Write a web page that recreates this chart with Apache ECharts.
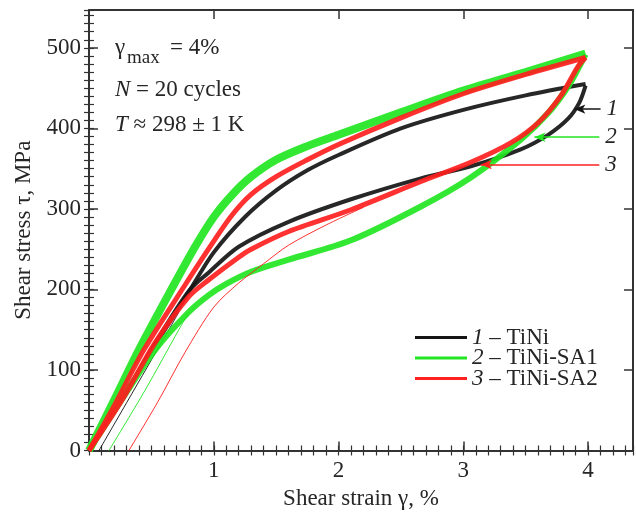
<!DOCTYPE html>
<html>
<head>
<meta charset="utf-8">
<script src="https://cdn.jsdelivr.net/npm/echarts@6/dist/echarts.min.js"></script>
<style>
  html, body { margin: 0; padding: 0; background: #fff; }
  #chart { width: 636px; height: 516px; }
</style>
</head>
<body>
<div id="chart"></div>
<script>
// strain (%) vs stress (MPa)
const tiniLoad = [[0,0],[0.2,50],[0.4,99],[0.6,148],[0.8,197],[1.0,246],[1.25,290],[1.5,323],[1.75,348],[2.0,367],[2.5,400],[3.0,423],[3.5,441],[3.98,455]];
const tiniUnload = [[3.98,453],[3.93,432],[3.84,412],[3.68,392],[3.46,374],[3.06,353],[2.66,338],[2.1,312],[1.6,284],[1.2,253],[0.96,221],[0.8,198],[0.53,133],[0.27,64],[0,0]];
const tiniFirst = [[0.08,0],[0.36,75],[0.64,150],[0.72,172]];

const sa1Load = [[0,0],[0.2,62],[0.4,125],[0.66,200],[0.85,253],[1.0,290],[1.15,318],[1.3,340],[1.5,361],[1.75,378],[2.0,392],[2.5,420],[3.0,447],[3.5,470],[3.98,493]];
const sa1Unload = [[3.98,492],[3.94,480],[3.84,452],[3.68,419],[3.46,386],[3.06,339],[2.66,303],[2.1,261],[1.6,237],[1.3,222],[1.1,207],[0.96,193],[0.8,172],[0.53,125],[0.27,65],[0,0]];
const sa1First = [[0.16,0],[0.45,75],[0.72,150],[0.8,172]];

const sa2Load = [[0,0],[0.2,55],[0.44,125],[0.78,208],[1.0,260],[1.15,293],[1.3,318],[1.5,340],[1.75,361],[2.0,380],[2.5,413],[3.0,443],[3.5,467],[3.98,488]];
const sa2Unload = [[3.98,488],[3.92,477],[3.78,440],[3.6,407],[3.38,382],[3.06,358],[2.66,334],[2.1,299],[1.6,272],[1.3,250],[1.2,240],[0.96,212],[0.8,191],[0.53,134],[0.27,64],[0,0]];
const sa2First = [[0.32,0],[0.55,60],[0.77,122],[1.0,178],[1.2,208],[1.4,232],[1.6,255],[1.9,280],[2.2,302]];

const sampleNames = ['TiNi', 'TiNi-SA1', 'TiNi-SA2'];
const sampleColors = ['#151515', '#22e622', '#ff2020'];

// arrow pointers to curve numbers: [tip, tail]
const arrow1 = [[3.89,424],[4.10,424]];
const arrow2 = [[3.57,389],[4.09,389]];
const arrow3 = [[3.14,355],[4.09,355]];

const X_MAX = 4.36;
const Y_MAX = 547;
const FONT = '"Liberation Serif", "Times New Roman", serif';
const INK = '#262626';

const chart = echarts.init(document.getElementById('chart'), null, { renderer: 'canvas' });

function frameAxis(pos, major, minor, max, showLabel, extra) {
  const base = {
    type: 'value', position: pos, min: 0, max: max,
    splitLine: { show: false },
  };
  const majorAxis = Object.assign({}, base, {
    interval: major,
    axisLine: { show: true, onZero: false, lineStyle: { color: '#333', width: 2 } },
    axisTick: { show: true, inside: true, length: 9, lineStyle: { color: '#333', width: 1.5 } },
    axisLabel: { show: showLabel, margin: 8, fontFamily: FONT, fontSize: 23, color: INK },
  }, extra || {});
  const minorAxis = Object.assign({}, base, {
    interval: minor,
    axisLine: { show: false },
    axisTick: { show: true, inside: true, length: 5, lineStyle: { color: '#333', width: 1.2 } },
    axisLabel: { show: false },
  });
  return [majorAxis, minorAxis];
}

const xAxes = [].concat(
  frameAxis('bottom', 1, 0.1, X_MAX, true, {
    name: 'Shear strain γ, %', nameLocation: 'middle', nameGap: 36,
    nameTextStyle: { fontFamily: FONT, fontSize: 23, color: INK },
    axisLabel: { show: true, margin: 9, fontFamily: FONT, fontSize: 23, color: INK,
      formatter: v => (Number.isInteger(v) && v > 0 ? String(v) : '') },
  }),
  frameAxis('top', 1, 0.1, X_MAX, false)
);

const yAxes = [].concat(
  frameAxis('left', 100, 10, Y_MAX, true, {
    name: 'Shear stress τ, MPa', nameLocation: 'middle', nameGap: 45,
    nameTextStyle: { fontFamily: FONT, fontSize: 23, color: INK },
    axisLabel: { show: true, margin: 8, fontFamily: FONT, fontSize: 23, color: INK,
      formatter: v => (v % 100 === 0 && v <= 500 ? String(v) : '') },
  }),
  frameAxis('right', 100, 10, Y_MAX, false)
);

function branch(idx, data, width, z, arrow) {
  const s = {
    name: sampleNames[idx], type: 'line', data: data,
    xAxisIndex: 0, yAxisIndex: 0,
    symbol: 'none', smooth: 0.3, z: z,
    color: sampleColors[idx],
    lineStyle: { color: sampleColors[idx], width: width, opacity: 0.92 },
  };
  if (arrow) {
    s.markLine = {
      silent: true, symbol: ['arrow', 'none'], symbolSize: [7, 11],
      lineStyle: { color: sampleColors[idx], width: 1.5, type: 'solid', opacity: 1 },
      label: { show: true, position: 'end', distance: 6, formatter: String(idx + 1),
        fontFamily: FONT, fontStyle: 'italic', fontSize: 23, color: INK },
      data: [[{ coord: arrow[0] }, { coord: arrow[1] }]],
    };
  }
  return s;
}

const series = [
  branch(0, tiniLoad, 4, 3),
  branch(0, tiniUnload, 4, 3, arrow1),
  branch(0, tiniFirst, 1, 3),
  branch(1, sa1Load, 8, 4),
  branch(1, sa1Unload, 6, 4, arrow2),
  branch(1, sa1First, 1, 4),
  branch(2, sa2Load, 5, 5),
  branch(2, sa2Unload, 5, 5, arrow3),
  branch(2, sa2First, 1, 5),
];

const textStyle = { fontFamily: FONT, fontSize: 23, fill: INK, verticalAlign: 'middle' };
const italic = { fontFamily: FONT, fontSize: 23, fontStyle: 'italic', fill: INK };

chart.setOption({
  animation: false,
  grid: { left: 89, right: 3, top: 10, bottom: 65.5, containLabel: false },
  xAxis: xAxes,
  yAxis: yAxes,
  legend: {
    data: sampleNames,
    orient: 'vertical', left: 410, top: 321,
    icon: 'rect', itemWidth: 52, itemHeight: 3, itemGap: -2.5,
    selectedMode: false,
    formatter: name => '{i|' + (sampleNames.indexOf(name) + 1) + '} – ' + name,
    textStyle: {
      fontFamily: FONT, fontSize: 23, color: INK, lineHeight: 20,
      rich: { i: { fontFamily: FONT, fontSize: 23, fontStyle: 'italic', color: INK, lineHeight: 20 } },
    },
  },
  graphic: [
    { type: 'text', x: 115, y: 48, style: Object.assign({ text: 'γ' }, textStyle) },
    { type: 'text', x: 127, y: 58, style: Object.assign({}, textStyle, { text: 'max', fontSize: 19 }) },
    { type: 'text', x: 170, y: 48, style: Object.assign({ text: '= 4%' }, textStyle) },
    { type: 'text', x: 115, y: 90, style: Object.assign({ text: '{i|N} = 20 cycles', rich: { i: italic } }, textStyle) },
    { type: 'text', x: 115, y: 125, style: Object.assign({ text: '{i|T} ≈ 298 ± 1 K', rich: { i: italic } }, textStyle) },
  ],
  series: series,
});
</script>
</body>
</html>
